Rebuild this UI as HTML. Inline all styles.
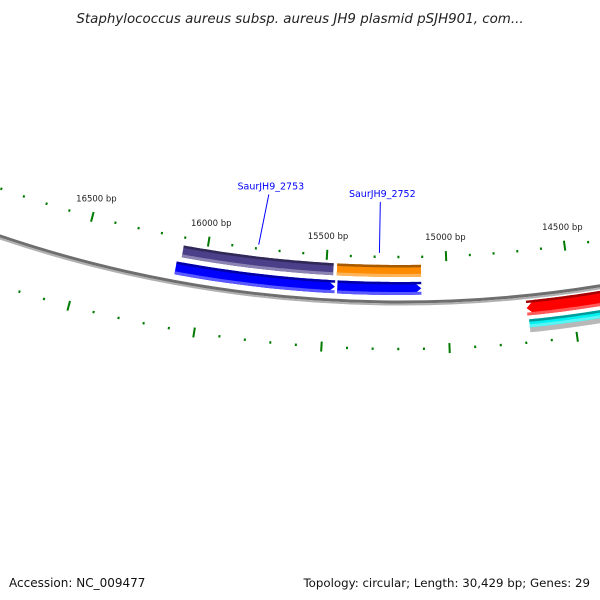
<!DOCTYPE html>
<html><head><meta charset="utf-8"><style>
body{margin:0;background:#fff;width:600px;height:600px;overflow:hidden;font-family:"DejaVu Sans","Liberation Sans",sans-serif}
svg{position:absolute;left:0;top:0}
</style></head><body>
<svg id="map" width="600" height="600" viewBox="0 0 600 600">
<text x="300" y="23" text-anchor="middle" font-size="13.4" font-style="italic" fill="#222">Staphylococcus aureus subsp. aureus JH9 plasmid pSJH901, com...</text>
<text x="9" y="587" font-size="12" fill="#111">Accession: NC_009477</text>
<text x="590" y="587" text-anchor="end" font-size="11.8" fill="#111">Topology: circular; Length: 30,429 bp; Genes: 29</text>
<g id="layer"></g>
</svg>
<script>
// data
const tickStart = 13500, tickEnd = 17600, tickStep = 100, majorStep = 500;
const tickLabels = [14500, 15000, 15500, 16000, 16500];
const featStarts = [15470, 15460, 15106, 15106, 13800, 13800];
const featEnds   = [16100, 16117, 15455, 15450, 14685, 14680];
const featTracks = ['inner1', 'inner2', 'inner1', 'inner2', 'outer1', 'outer2'];
const featStrand = [0, -1, 0, -1, 1, 0];
const featColors = ['#4a3f88', '#0000ff', '#ff8c00', '#0000ff', '#ff0000', '#00f0f0'];
const geneLabels = ['SaurJH9_2753', 'SaurJH9_2752'];
const geneLabelBp = [15790, 15280];

const CX = 400, CY = -942, K = 0.0993 / 500, T0 = 0.0609, REF = 15500;
const tracks = {inner1: [1207, 1219], inner2: [1224, 1237], outer1: [1249, 1264], outer2: [1268, 1276]};
const NS = 'http://www.w3.org/2000/svg';
const layer = document.getElementById('layer');
function ang(bp) { return T0 + (bp - REF) * K; }
function pt(bp, r) { const t = ang(bp); return [CX - r * Math.sin(t), CY + r * Math.cos(t)]; }
function mk(tag, attrs) { const e = document.createElementNS(NS, tag); for (const k in attrs) e.setAttribute(k, attrs[k]); layer.appendChild(e); return e; }
function shade(hex, f) {
  const n = parseInt(hex.slice(1), 16); let r = n >> 16, g = (n >> 8) & 255, b = n & 255;
  const c = v => Math.max(0, Math.min(255, Math.round(f < 0 ? v * (1 + f) : v + (255 - v) * f)));
  return 'rgb(' + c(r) + ',' + c(g) + ',' + c(b) + ')';
}
// strand -1: arrowhead at low bp (points right); strand 1: arrowhead at high bp (points left)
function arcPoly(b1, b2, r1, r2, strand) {
  const pts = [], head = 8 / (1240 * K);
  let s = b1, e = b2;
  if (strand === -1) s = b1 + head;
  if (strand === 1) e = b2 - head;
  const n = 40;
  for (let i = 0; i <= n; i++) pts.push(pt(s + (e - s) * i / n, r1));
  if (strand === 1) pts.push(pt(b2, (r1 + r2) / 2));
  for (let i = n; i >= 0; i--) pts.push(pt(s + (e - s) * i / n, r2));
  if (strand === -1) pts.push(pt(b1, (r1 + r2) / 2));
  return pts.map(p => p[0].toFixed(1) + ',' + p[1].toFixed(1)).join(' ');
}
// backbone
let bb = mk('circle', {cx: CX, cy: CY, r: 1244, fill: 'none', stroke: '#6e6e6e', 'stroke-width': 3});


let bb2 = mk('circle', {cx: CX, cy: CY, r: 1246.5, fill: 'none', stroke: '#b0b0b0', 'stroke-width': 2});


// ticks
for (let bp = tickStart; bp <= tickEnd; bp += tickStep) {
  const major = bp % majorStep === 0;
  [[1199, major ? 5 : 1.2], [1291, major ? 5 : 1.2]].forEach(([r, h], j) => {
    const a = pt(bp, r - h), b = pt(bp, r + h);
    const l = mk('line', {x1: a[0], y1: a[1], x2: b[0], y2: b[1], stroke: '#007a00', 'stroke-width': 2});
    
    
  });
}
tickLabels.forEach(bp => {
  const p = pt(bp, 1183);
  const t = mk('text', {x: p[0], y: p[1], 'text-anchor': 'middle', 'font-size': 8.5, fill: '#222'});
  t.textContent = bp + ' bp';
  
  
});
// cyan shadow
const cg = mk('polygon', {points: arcPoly(13800, 14680, 1275, 1281, 0), fill: '#b8b8b8'});


// features
featStarts.forEach((s, i) => {
  const [r1, r2] = tracks[featTracks[i]], e = featEnds[i], c = featColors[i];
  const g = mk('polygon', {points: arcPoly(s, e, r1, r2, featStrand[i]), fill: c});
  
  
  const d = mk('polygon', {points: arcPoly(s, e, r1, r1 + 2.5, 0), fill: shade(c, -0.35)});
  
  
  const lt = mk('polygon', {points: arcPoly(s, e, r2 - 3, r2, 0), fill: shade(c, 0.35)});
  
  
});
// gene labels
geneLabels.forEach((lab, i) => {
  const bp = geneLabelBp[i], a = pt(bp, 1195), b = pt(bp - (i === 0 ? 18 : 0), 1144);
  const l = mk('line', {x1: a[0], y1: a[1], x2: b[0], y2: b[1], stroke: '#0000ff', 'stroke-width': 1});
  
  
  const t = mk('text', {x: b[0] + 2, y: b[1] - 5, 'text-anchor': 'middle', 'font-size': 9.5, fill: '#0000ff'});
  t.textContent = lab;
  
  
});
</script>
</body></html>
